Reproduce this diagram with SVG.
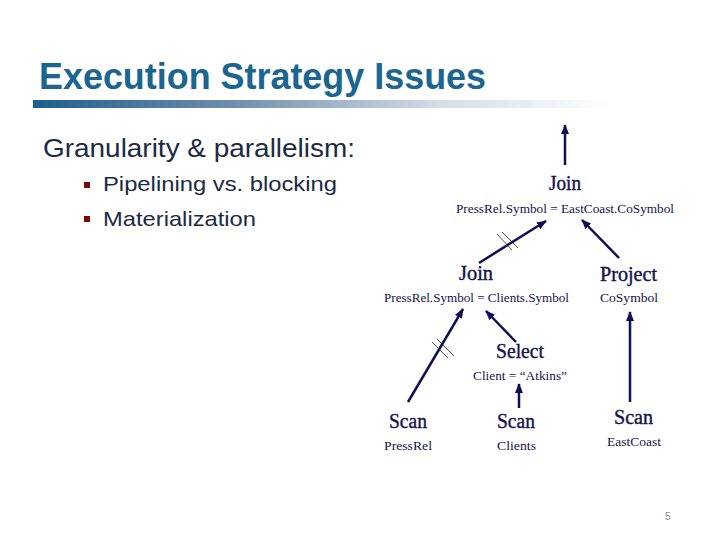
<svg xmlns="http://www.w3.org/2000/svg" width="720" height="540" viewBox="0 0 720 540">
<defs>
<linearGradient id="bar" x1="0" y1="0" x2="1" y2="0">
<stop offset="0" stop-color="#1f5f8f"/>
<stop offset="0.35" stop-color="#6f8fae"/>
<stop offset="0.7" stop-color="#d5dde6"/>
<stop offset="1" stop-color="#ffffff"/>
</linearGradient>
<marker id="ah" viewBox="0 0 10 8" refX="9" refY="4" markerWidth="10" markerHeight="8" markerUnits="userSpaceOnUse" orient="auto">
<path d="M0,0 L10,4 L0,8 Z" fill="#0f0f55"/>
</marker>
<style>
.title{font-family:"Liberation Sans Narrow","Liberation Sans",Arial,sans-serif;font-weight:bold;font-size:36px;fill:#1b6690}
.body{font-family:"Liberation Sans",Arial,sans-serif;fill:#1c2a44}
.op{font-family:"Liberation Serif","Times New Roman",serif;font-size:20px;fill:#141450;stroke:#141450;stroke-width:0.4}
.arg{font-family:"Liberation Serif","Times New Roman",serif;font-size:12.5px;fill:#141450}
.conn{stroke:#0f0f55;stroke-width:2.5;fill:none;marker-end:url(#ah)}
.hatch{stroke:#222;stroke-width:0.8;fill:none}
</style>
</defs>
<rect width="720" height="540" fill="#ffffff"/>
<g id="title">
<text class="title" x="39" y="89" textLength="447" lengthAdjust="spacingAndGlyphs">Execution Strategy Issues</text>
<rect x="33" y="100" width="580" height="8" fill="url(#bar)"/>
</g>
<g id="bullets">
<text class="body" x="43" y="157" font-size="25" textLength="312" lengthAdjust="spacingAndGlyphs">Granularity &amp; parallelism:</text>
<rect x="84" y="182" width="6" height="6" fill="#7a0a0a"/>
<text class="body" x="103" y="191" font-size="21" textLength="234" lengthAdjust="spacingAndGlyphs">Pipelining vs. blocking</text>
<rect x="84" y="216" width="6" height="6" fill="#7a0a0a"/>
<text class="body" x="103" y="226" font-size="21" textLength="153" lengthAdjust="spacingAndGlyphs">Materialization</text>
</g>
<g id="connectors">
<line class="conn" x1="565" y1="165" x2="565" y2="125"/>
<line class="conn" x1="479" y1="263" x2="546" y2="221"/>
<line class="conn" x1="619" y1="258" x2="582" y2="220"/>
<line class="conn" x1="408" y1="402" x2="463" y2="309"/>
<line class="conn" x1="516" y1="342" x2="486" y2="311"/>
<line class="conn" x1="519" y1="408" x2="519" y2="384"/>
<line class="conn" x1="630" y1="402" x2="630" y2="312"/>
<line class="hatch" x1="497" y1="234" x2="512" y2="250"/>
<line class="hatch" x1="502" y1="232" x2="518" y2="248"/>
<line class="hatch" x1="432" y1="342" x2="448" y2="358"/>
<line class="hatch" x1="437" y1="339" x2="454" y2="356"/>
</g>
<g id="join1">
<text class="op" x="549" y="190" textLength="32" lengthAdjust="spacingAndGlyphs">Join</text>
<text class="arg" x="456" y="213" textLength="218" lengthAdjust="spacingAndGlyphs">PressRel.Symbol = EastCoast.CoSymbol</text>
</g>
<g id="join2">
<text class="op" x="459" y="280" textLength="34" lengthAdjust="spacingAndGlyphs">Join</text>
<text class="arg" x="384" y="302" textLength="185" lengthAdjust="spacingAndGlyphs">PressRel.Symbol = Clients.Symbol</text>
</g>
<g id="project">
<text class="op" x="600" y="281" textLength="57" lengthAdjust="spacingAndGlyphs">Project</text>
<text class="arg" x="600" y="302" textLength="58" lengthAdjust="spacingAndGlyphs">CoSymbol</text>
</g>
<g id="select">
<text class="op" x="496" y="358" textLength="48" lengthAdjust="spacingAndGlyphs">Select</text>
<text class="arg" x="473" y="380" textLength="94" lengthAdjust="spacingAndGlyphs">Client = “Atkins”</text>
</g>
<g id="scan-pressrel">
<text class="op" x="389" y="428" textLength="38" lengthAdjust="spacingAndGlyphs">Scan</text>
<text class="arg" x="384" y="450" textLength="48" lengthAdjust="spacingAndGlyphs">PressRel</text>
</g>
<g id="scan-clients">
<text class="op" x="497" y="428" textLength="38" lengthAdjust="spacingAndGlyphs">Scan</text>
<text class="arg" x="497" y="450" textLength="39" lengthAdjust="spacingAndGlyphs">Clients</text>
</g>
<g id="scan-eastcoast">
<text class="op" x="614" y="424" textLength="39" lengthAdjust="spacingAndGlyphs">Scan</text>
<text class="arg" x="607" y="446" textLength="54" lengthAdjust="spacingAndGlyphs">EastCoast</text>
</g>
<text x="665" y="520" font-family="Liberation Sans,Arial,sans-serif" font-size="10" fill="#888">5</text>
</svg>
